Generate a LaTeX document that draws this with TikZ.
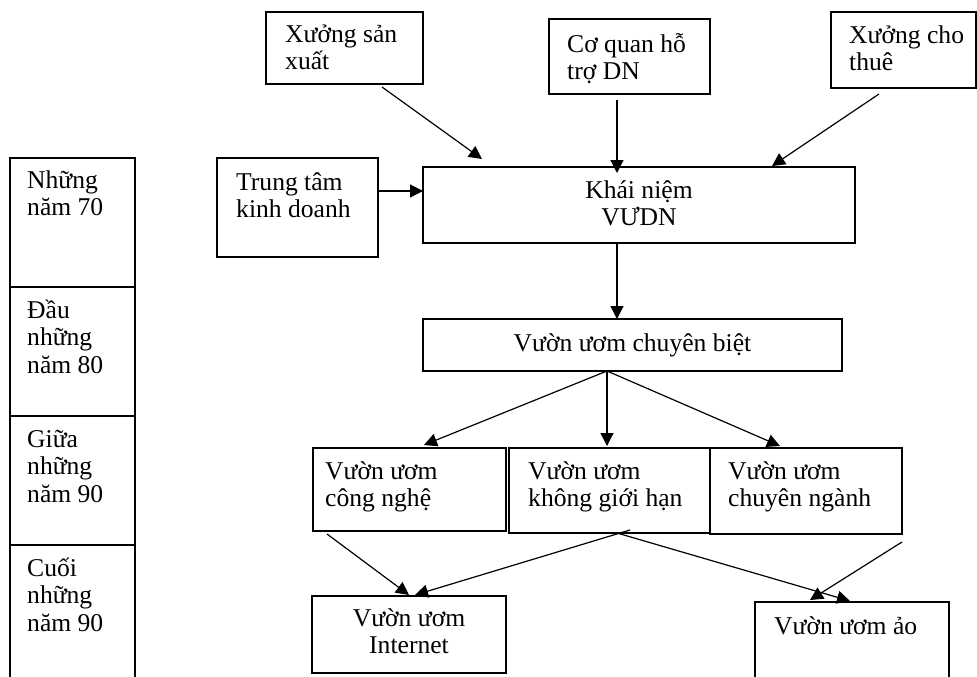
\documentclass[tikz,border=0pt]{standalone}
\usepackage{fontspec}
\setmainfont{Liberation Serif}
\usetikzlibrary{arrows.meta}
\newcommand{\firstline}{\rule{0pt}{22pt}}
\tikzset{
  box/.style={draw=black, line width=1.3pt, inner sep=0pt, outer sep=0pt, fill=none},
  lbl/.style={font=\fontsize{25.6}{27.5}\selectfont, inner sep=0pt, align=left, anchor=north west},
  clbl/.style={font=\fontsize{25.6}{27.5}\selectfont, inner sep=0pt, align=center, anchor=north},
  arr/.style={draw=black, line width=1.2pt, -{Triangle[length=13pt,width=13pt]}}
}
\begin{document}
\begin{tikzpicture}[x=1pt,y=-1pt]
\useasboundingbox (0,0) rectangle (977,677);
\clip (0,0) rectangle (977,677);
\fill[white] (0,0) rectangle (977,677);

% time line on the left
\node[box, minimum width=125pt, minimum height=129pt] (p70) at (72.5,222.5) {};
\node[box, minimum width=125pt, minimum height=129pt] (p80) at (72.5,351.5) {};
\node[box, minimum width=125pt, minimum height=129pt] (p90a) at (72.5,480.5) {};
\node[box, minimum width=125pt, minimum height=160pt] (p90b) at (72.5,625) {};
\node[lbl] (t70) at (27,166) {\firstline Những\\năm 70};
\node[lbl] (t80) at (27,296) {\firstline Đầu\\những\\năm 80};
\node[lbl] (t90a) at (27,425) {\firstline Giữa\\những\\năm 90};
\node[lbl] (t90b) at (27,554) {\firstline Cuối\\những\\năm 90};

% top sources
\node[box, minimum width=157pt, minimum height=72pt] (xsx) at (344.5,48) {};
\node[lbl] (xsxt) at (285,20) {\firstline Xưởng sản\\xuất};
\node[box, minimum width=161pt, minimum height=75pt] (cq) at (629.5,56.5) {};
\node[lbl] (cqt) at (567,30) {\firstline Cơ quan hỗ\\trợ DN};
\node[box, minimum width=145pt, minimum height=76pt] (xct) at (903.5,50) {};
\node[lbl] (xctt) at (849,21) {\firstline Xưởng cho\\thuê};
\node[box, minimum width=161pt, minimum height=99pt] (ttkd) at (297.5,207.5) {};
\node[lbl] (ttkdt) at (236,168) {\firstline Trung tâm\\kinh doanh};

% concept
\node[box, minimum width=432pt, minimum height=76pt] (kn) at (639,205) {};
\node[clbl] (knt) at (639,176) {\firstline Khái niệm\\VƯDN};

\node[box, minimum width=419pt, minimum height=52pt] (vucb) at (632.5,345) {};
\node[clbl] (vucbt) at (632.5,329) {\firstline Vườn ươm chuyên biệt};

% specialised incubators
\node[box, minimum width=193pt, minimum height=83pt] (cn) at (409.5,489.5) {};
\node[lbl] (cnt) at (325,457) {\firstline Vườn ươm\\công nghệ};
\node[box, minimum width=201pt, minimum height=85pt] (kgh) at (609.5,490.5) {};
\node[lbl] (kght) at (528,457) {\firstline Vườn ươm\\không giới hạn};
\node[box, minimum width=192pt, minimum height=86pt] (cng) at (806,491) {};
\node[lbl] (cngt) at (728,457) {\firstline Vườn ươm\\chuyên ngành};

% newest forms
\node[box, minimum width=194pt, minimum height=77pt] (inet) at (409,634.5) {};
\node[clbl] (inett) at (409,604) {\firstline Vườn ươm\\Internet};
\node[box, minimum width=194pt, minimum height=110pt] (ao) at (852,657) {};
\node[lbl] (aot) at (774,612) {\firstline Vườn ươm ảo};

% connectors
\draw[arr] ([xshift=37.5pt,yshift=-3pt]xsx.south) -- ([xshift=-157pt,yshift=8pt]kn.north);
\draw[arr] ([xshift=-12.5pt,yshift=-6pt]cq.south) -- ([xshift=-12.5pt,yshift=-6pt]cq.south |- kn.north);
\draw[arr] ([xshift=-24.5pt,yshift=-6pt]xct.south) -- ([xshift=133pt,yshift=1pt]kn.north);
\draw[arr] ([yshift=16.5pt]ttkd.east) -- ([yshift=16.5pt]ttkd.east -| kn.west);
\draw[arr] ([xshift=-22pt]kn.south) -- ([xshift=-22pt]kn.south |- vucb.north);

\draw[arr] ([xshift=-25.5pt]vucb.south) -- ([xshift=14.5pt,yshift=3pt]cn.north);
\draw[arr] ([xshift=-25.5pt]vucb.south) -- ([xshift=-25.5pt,yshift=2pt]vucb.south |- kgh.north);
\draw[arr] ([xshift=-25.5pt]vucb.south) -- ([xshift=-26pt,yshift=2pt]cng.north);

\draw[arr] ([xshift=-82.5pt,yshift=-3pt]cn.south) -- ([yshift=1pt]inet.north);
\draw[arr] ([xshift=20.5pt,yshift=3pt]kgh.south) -- ([xshift=6pt,yshift=1pt]inet.north);
\draw[arr] ([xshift=7.5pt]kgh.south) -- ([xshift=-2pt,yshift=1pt]ao.north);
\draw[arr] ([xshift=96pt,yshift=-8pt]cng.south) -- ([xshift=-42pt,yshift=2pt]ao.north);
\end{tikzpicture}
\end{document}
